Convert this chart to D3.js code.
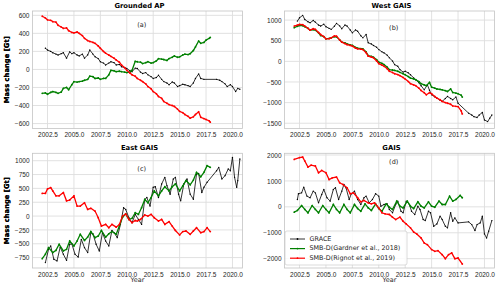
<!DOCTYPE html>
<html lang="en">
<head>
    <meta charset="UTF-8">
    <title>Antarctic mass change</title>
    <script src="https://d3js.org/d3.v7.min.js"></script>
    <style>
        body { margin: 0; background: #fff; }
        svg { display: block; font-family: "DejaVu Sans", sans-serif; }
        .tick text { fill: #262626; font-size: 6.5px; }
        .grid line { stroke: #dedede; stroke-width: 0.9px; }
        .title { font-weight: bold; font-size: 6.8px; fill: #000; }
        .ylab { font-weight: bold; font-size: 6.8px; fill: #000; }
        .tag { font-size: 6.5px; fill: #262626; }
        .legend text { font-size: 6.4px; fill: #262626; }
    </style>
</head>
<body>
    <svg width="500" height="288"></svg>

    <script>
        // [decimal year, mass change in Gt]
        // (a) Grounded AP
        const apGrace = [[2002.3,235],[2002.5,215],[2002.8,200],[2003.0,185],[2003.3,170],[2003.5,160],[2003.8,175],[2004.0,185],[2004.3,125],[2004.6,195],[2004.8,175],[2005.0,185],[2005.3,160],[2005.5,150],[2005.8,170],[2006.0,125],[2006.3,160],[2006.5,215],[2006.8,170],[2007.0,140],[2007.3,120],[2007.5,85],[2007.8,70],[2008.0,50],[2008.3,70],[2008.5,85],[2008.8,75],[2009.0,50],[2009.3,55],[2009.5,30],[2009.8,20],[2010.0,10],[2010.3,-15],[2010.5,-25],[2010.8,15],[2011.0,10],[2011.3,-30],[2011.5,-45],[2011.8,-35],[2012.0,-60],[2012.3,-80],[2012.5,-100],[2012.8,-90],[2013.0,-65],[2013.3,-110],[2013.5,-135],[2013.8,-150],[2014.0,-170],[2014.3,-140],[2014.5,-150],[2014.8,-190],[2015.0,-180],[2015.3,-165],[2015.5,-170],[2015.8,-180],[2016.0,-190],[2016.3,-150],[2016.5,-100],[2016.8,-50],[2017.0,-100],[2017.3,-110],[2018.5,-110],[2018.8,-120],[2019.0,-135],[2019.3,-160],[2019.5,-190],[2019.8,-170],[2020.0,-190],[2020.3,-245],[2020.5,-210],[2020.7,-220]];
        const apGardner = [[2002.0,-265],[2002.3,-260],[2002.5,-275],[2002.8,-255],[2003.0,-245],[2003.3,-255],[2003.5,-265],[2003.8,-250],[2004.0,-210],[2004.3,-200],[2004.5,-225],[2004.8,-170],[2005.0,-135],[2005.3,-140],[2005.5,-135],[2005.8,-130],[2006.0,-120],[2006.3,-110],[2006.5,-75],[2006.8,-80],[2007.0,-100],[2007.3,-95],[2007.5,-110],[2007.8,-100],[2008.0,-100],[2008.3,-60],[2008.5,-10],[2008.8,-15],[2009.0,-25],[2009.3,-20],[2009.5,-25],[2009.8,-30],[2010.0,-35],[2010.3,-30],[2010.5,-10],[2010.8,90],[2011.0,85],[2011.3,80],[2011.5,65],[2011.8,75],[2012.0,85],[2012.3,70],[2012.5,75],[2012.8,95],[2013.0,120],[2013.3,115],[2013.5,110],[2013.8,100],[2014.0,120],[2014.3,135],[2014.5,150],[2014.8,135],[2015.0,140],[2015.3,160],[2015.5,170],[2015.8,165],[2016.0,175],[2016.3,210],[2016.5,250],[2016.8,315],[2017.0,290],[2017.3,300],[2017.5,325],[2017.8,345],[2017.9,355]];
        const apRignot = [[2002.0,590],[2002.3,570],[2002.5,550],[2002.8,545],[2003.0,530],[2003.3,525],[2003.5,490],[2003.8,470],[2004.0,455],[2004.3,460],[2004.5,430],[2004.8,410],[2005.0,405],[2005.3,415],[2005.5,400],[2005.8,375],[2006.0,345],[2006.3,320],[2006.5,310],[2006.8,300],[2007.0,290],[2007.3,260],[2007.5,235],[2007.8,200],[2008.0,180],[2008.3,160],[2008.5,145],[2008.8,125],[2009.0,105],[2009.3,80],[2009.5,50],[2009.8,20],[2010.0,-10],[2010.3,-40],[2010.5,-60],[2010.8,-75],[2011.0,-100],[2011.3,-120],[2011.5,-135],[2011.8,-160],[2012.0,-190],[2012.3,-215],[2012.5,-245],[2012.8,-270],[2013.0,-300],[2013.3,-320],[2013.5,-355],[2013.8,-375],[2014.0,-390],[2014.3,-400],[2014.5,-410],[2014.8,-440],[2015.0,-465],[2015.3,-480],[2015.5,-500],[2015.8,-520],[2016.0,-540],[2016.3,-525],[2016.5,-500],[2016.8,-470],[2017.0,-530],[2017.3,-545],[2017.5,-555],[2017.8,-570],[2017.9,-585]];

        // (b) West GAIS
        const wgGrace = [[2002.3,975],[2002.5,1055],[2002.8,1115],[2003.0,1015],[2003.3,960],[2003.5,935],[2003.8,990],[2004.0,950],[2004.3,880],[2004.5,855],[2004.8,900],[2005.0,840],[2005.3,800],[2005.5,775],[2005.8,850],[2006.0,920],[2006.3,860],[2006.5,790],[2006.8,880],[2007.0,855],[2007.3,760],[2007.5,690],[2007.8,760],[2008.0,730],[2008.3,620],[2008.5,570],[2008.8,650],[2009.0,450],[2009.3,420],[2009.5,385],[2009.8,340],[2010.0,285],[2010.3,230],[2010.5,205],[2010.8,150],[2011.0,85],[2011.3,10],[2011.5,-80],[2011.8,-120],[2012.0,-200],[2012.3,-260],[2012.5,-240],[2012.8,-280],[2013.0,-325],[2013.3,-400],[2013.5,-445],[2013.8,-520],[2014.0,-590],[2014.3,-690],[2014.6,-570],[2014.8,-700],[2015.0,-810],[2015.3,-860],[2015.5,-890],[2015.8,-940],[2016.0,-970],[2016.3,-900],[2016.5,-850],[2016.8,-900],[2017.0,-930],[2017.3,-865],[2017.5,-1015],[2018.5,-1255],[2018.8,-1300],[2019.0,-1340],[2019.3,-1360],[2019.5,-1300],[2019.8,-1240],[2020.0,-1420],[2020.3,-1460],[2020.5,-1380],[2020.7,-1300]];
        const wgGardner = [[2002.0,815],[2002.3,850],[2002.5,870],[2002.8,865],[2003.0,840],[2003.3,800],[2003.5,755],[2003.8,770],[2004.0,755],[2004.3,690],[2004.5,625],[2004.8,600],[2005.0,545],[2005.3,555],[2005.5,570],[2005.8,600],[2006.0,595],[2006.3,520],[2006.5,465],[2006.8,450],[2007.0,425],[2007.3,400],[2007.5,385],[2007.8,340],[2008.0,320],[2008.3,310],[2008.5,300],[2008.8,230],[2009.0,140],[2009.3,120],[2009.5,100],[2009.8,40],[2010.0,-20],[2010.3,-50],[2010.5,-80],[2010.8,-140],[2011.0,-200],[2011.3,-210],[2011.5,-220],[2011.8,-240],[2012.0,-265],[2012.3,-300],[2012.5,-325],[2012.8,-370],[2013.0,-405],[2013.3,-425],[2013.5,-445],[2013.8,-490],[2014.0,-540],[2014.3,-570],[2014.5,-590],[2014.8,-510],[2015.0,-625],[2015.3,-650],[2015.5,-670],[2015.8,-680],[2016.0,-690],[2016.3,-710],[2016.5,-730],[2016.8,-670],[2017.0,-755],[2017.3,-770],[2017.5,-785],[2017.8,-820],[2017.9,-865]];
        const wgRignot = [[2002.0,855],[2002.3,880],[2002.5,895],[2002.8,890],[2003.0,855],[2003.3,800],[2003.5,755],[2003.8,790],[2004.0,775],[2004.3,700],[2004.5,650],[2004.8,600],[2005.0,545],[2005.3,550],[2005.5,570],[2005.8,615],[2006.0,610],[2006.3,520],[2006.5,465],[2006.8,430],[2007.0,405],[2007.3,385],[2007.5,370],[2007.8,320],[2008.0,300],[2008.3,295],[2008.5,285],[2008.8,210],[2009.0,125],[2009.3,105],[2009.5,85],[2009.8,10],[2010.0,-55],[2010.3,-90],[2010.5,-120],[2010.8,-180],[2011.0,-240],[2011.3,-270],[2011.5,-300],[2011.8,-320],[2012.0,-345],[2012.3,-390],[2012.5,-430],[2012.8,-490],[2013.0,-540],[2013.3,-570],[2013.5,-590],[2013.8,-650],[2014.0,-705],[2014.3,-760],[2014.5,-810],[2014.8,-760],[2015.0,-785],[2015.3,-850],[2015.5,-890],[2015.8,-930],[2016.0,-970],[2016.3,-1000],[2016.5,-1015],[2016.8,-1040],[2017.0,-1080],[2017.3,-1090],[2017.5,-1095],[2017.8,-1200],[2017.9,-1275]];

        // (c) East GAIS
        const egGrace = [[2002.3,-840],[2002.6,-600],[2002.8,-540],[2003.1,-780],[2003.4,-810],[2003.7,-560],[2004.0,-690],[2004.3,-800],[2004.6,-510],[2004.8,-500],[2005.1,-690],[2005.4,-740],[2005.7,-420],[2006.0,-570],[2006.3,-660],[2006.6,-300],[2006.8,-320],[2007.1,-510],[2007.4,-630],[2007.7,-300],[2008.0,-450],[2008.3,-540],[2008.6,-260],[2008.8,-300],[2009.1,-390],[2009.4,-150],[2009.7,150],[2009.9,120],[2010.2,-30],[2010.5,-120],[2010.8,30],[2011.1,-60],[2011.4,-150],[2011.7,300],[2011.9,335],[2012.2,180],[2012.5,520],[2012.7,530],[2013.0,335],[2013.3,580],[2013.6,700],[2013.8,550],[2014.1,395],[2014.4,670],[2014.6,700],[2014.9,395],[2015.1,275],[2015.4,580],[2015.7,670],[2016.0,395],[2016.3,305],[2016.6,760],[2016.8,770],[2017.1,425],[2017.3,520],[2017.6,610],[2018.5,820],[2018.7,880],[2019.0,670],[2019.3,730],[2019.6,850],[2019.8,820],[2020.0,1060],[2020.2,700],[2020.4,520],[2020.5,640],[2020.7,1030]];
        const egGardner = [[2002.0,-770],[2002.3,-690],[2002.6,-570],[2003.0,-660],[2003.3,-620],[2003.6,-510],[2004.0,-630],[2004.3,-600],[2004.6,-450],[2005.0,-540],[2005.3,-450],[2005.6,-330],[2006.0,-440],[2006.3,-380],[2006.6,-280],[2007.0,-390],[2007.3,-360],[2007.6,-260],[2008.0,-380],[2008.3,-320],[2008.6,-280],[2009.0,-330],[2009.3,-180],[2009.6,-20],[2009.9,40],[2010.2,-60],[2010.5,-40],[2010.8,60],[2011.1,30],[2011.4,150],[2011.7,300],[2012.0,240],[2012.3,335],[2012.6,455],[2013.0,365],[2013.3,455],[2013.6,530],[2014.0,455],[2014.3,530],[2014.6,580],[2015.0,455],[2015.3,545],[2015.6,640],[2016.0,565],[2016.3,650],[2016.6,790],[2017.0,710],[2017.3,790],[2017.6,910],[2017.9,880]];
        const egRignot = [[2002.0,410],[2002.3,410],[2002.5,490],[2002.8,515],[2003.0,455],[2003.3,365],[2003.6,365],[2004.0,425],[2004.3,275],[2004.6,290],[2005.0,365],[2005.3,180],[2005.6,180],[2006.0,240],[2006.3,120],[2006.6,140],[2007.0,90],[2007.3,-30],[2007.6,-180],[2008.0,-150],[2008.3,-210],[2008.6,-150],[2009.0,-200],[2009.3,-150],[2009.6,0],[2009.9,40],[2010.2,-60],[2010.5,-120],[2010.8,-80],[2011.0,-90],[2011.3,-60],[2011.7,20],[2012.0,0],[2012.3,30],[2012.6,-30],[2013.0,-90],[2013.3,-60],[2013.6,-150],[2014.0,-100],[2014.3,-180],[2014.6,-260],[2015.0,-340],[2015.3,-280],[2015.6,-270],[2016.0,-330],[2016.3,-270],[2016.6,-210],[2017.0,-300],[2017.3,-280],[2017.6,-210],[2017.9,-280]];

        // (d) GAIS
        const gaGrace = [[2002.3,285],[2002.4,505],[2002.7,540],[2002.9,760],[2003.2,415],[2003.5,350],[2003.8,605],[2004.0,540],[2004.3,155],[2004.6,475],[2004.8,670],[2005.1,350],[2005.4,220],[2005.7,670],[2005.9,735],[2006.2,285],[2006.5,605],[2006.7,865],[2006.9,735],[2007.2,285],[2007.4,505],[2007.7,605],[2008.0,285],[2008.3,90],[2008.6,350],[2008.8,415],[2009.1,155],[2009.4,285],[2009.7,505],[2010.0,415],[2010.2,25],[2010.5,90],[2010.8,115],[2011.0,-100],[2011.3,-230],[2011.6,90],[2011.8,220],[2012.1,-170],[2012.3,-230],[2012.6,220],[2012.9,90],[2013.1,-170],[2013.4,-295],[2013.7,25],[2013.9,-100],[2014.2,-490],[2014.4,-530],[2014.7,-170],[2014.9,-230],[2015.2,-750],[2015.5,-660],[2015.8,-360],[2016.0,-490],[2016.3,-750],[2016.5,-810],[2016.8,-230],[2017.0,-555],[2017.2,-425],[2017.5,-620],[2018.5,-580],[2018.8,-685],[2019.1,-915],[2019.3,-685],[2019.6,-620],[2019.8,-360],[2020.0,-1045],[2020.2,-1200],[2020.4,-940],[2020.7,-530]];
        const gaGardner = [[2002.0,-205],[2002.3,-140],[2002.7,50],[2003.0,-100],[2003.3,-230],[2003.7,50],[2004.0,-100],[2004.3,-230],[2004.7,50],[2005.0,-100],[2005.3,-230],[2005.7,90],[2006.0,-100],[2006.3,-230],[2006.7,90],[2007.0,-100],[2007.3,-230],[2007.7,90],[2008.0,-65],[2008.3,-170],[2008.7,115],[2009.0,-40],[2009.3,-140],[2009.7,115],[2010.0,-65],[2010.3,-170],[2010.7,115],[2011.0,-15],[2011.3,-100],[2011.7,220],[2012.0,25],[2012.3,-40],[2012.7,220],[2013.0,25],[2013.3,-65],[2013.7,195],[2014.0,25],[2014.3,-40],[2014.7,195],[2015.0,25],[2015.3,-15],[2015.7,220],[2016.0,90],[2016.3,90],[2016.7,410],[2017.0,220],[2017.3,285],[2017.7,440],[2017.9,350]];
        const gaRignot = [[2002.0,1830],[2002.5,1900],[2002.8,1920],[2003.0,1770],[2003.3,1535],[2003.6,1610],[2004.0,1575],[2004.3,1315],[2004.6,1405],[2005.0,1315],[2005.3,1055],[2005.6,1120],[2006.0,1150],[2006.3,930],[2006.6,865],[2007.0,735],[2007.3,505],[2007.6,540],[2008.0,350],[2008.3,195],[2008.6,245],[2009.0,155],[2009.3,115],[2009.6,155],[2010.0,-40],[2010.3,-230],[2010.6,-270],[2011.0,-295],[2011.3,-400],[2011.6,-490],[2012.0,-400],[2012.3,-555],[2012.6,-660],[2013.0,-810],[2013.3,-970],[2013.6,-1045],[2014.0,-1200],[2014.3,-1395],[2014.6,-1460],[2015.0,-1650],[2015.3,-1715],[2015.6,-1690],[2016.0,-1845],[2016.3,-2000],[2016.6,-1845],[2016.9,-1780],[2017.2,-2000],[2017.5,-1975],[2017.9,-2205]];

        const xTicks = [2002.5, 2005, 2007.5, 2010, 2012.5, 2015, 2017.5, 2020];
        const apTicks = [-600, -400, -200, 0, 200, 400, 600];
        const wgTicks = [-1500, -1000, -500, 0, 500, 1000];
        const egTicks = [-750, -500, -250, 0, 250, 500, 750, 1000];
        const gaTicks = [-2000, -1000, 0, 1000, 2000];

        const seriesNames = ["GRACE", "SMB-D(Gardner et al., 2018)", "SMB-D(Rignot et al., 2019)"];
        const colors = ["#000000", "#008000", "#ff0000"];

        const panels = [
            { title: "Grounded AP", tag: "(a)", data: [apGrace, apGardner, apRignot], yDom: [-655, 648], yTicks: apTicks,
              left: 32.5, top: 11, h: 117.5, tagY: 14, xLabel: false, legend: false },
            { title: "West GAIS", tag: "(b)", data: [wgGrace, wgGardner, wgRignot], yDom: [-1627, 1220], yTicks: wgTicks,
              left: 284.5, top: 11, h: 117.5, tagY: 17, xLabel: false, legend: false },
            { title: "East GAIS", tag: "(c)", data: [egGrace, egGardner, egRignot], yDom: [-938, 1134], yTicks: egTicks,
              left: 32.5, top: 153.3, h: 114.7, tagY: 16, xLabel: true, legend: false },
            { title: "GAIS", tag: "(d)", data: [gaGrace, gaGardner, gaRignot], yDom: [-2360, 2066], yTicks: gaTicks,
              left: 284.5, top: 153.3, h: 114.7, tagY: 8.5, xLabel: true, legend: true }
        ];
        const plotW = 210;

        const svg = d3.select("svg");
        const fmtY = d => d3.format("")(d).replace("-", "\u2212");

        panels.forEach(p => {
            const g = svg.append("g").attr("transform", `translate(${p.left},${p.top})`);
            const x = d3.scaleLinear().domain([2001.08, 2020.95]).range([0, plotW]);
            const y = d3.scaleLinear().domain(p.yDom).range([p.h, 0]);

            // grid
            g.append("g").attr("class", "grid")
                .selectAll("line").data(xTicks).join("line")
                .attr("x1", d => x(d)).attr("x2", d => x(d)).attr("y1", 0).attr("y2", p.h);
            g.append("g").attr("class", "grid")
                .selectAll("line").data(p.yTicks).join("line")
                .attr("x1", 0).attr("x2", plotW).attr("y1", d => y(d)).attr("y2", d => y(d));

            // axes (no tick marks, seaborn-like)
            g.append("g")
                .attr("transform", `translate(0,${p.h})`)
                .call(d3.axisBottom(x).tickValues(xTicks).tickFormat(d3.format(".1f")).tickSize(0).tickPadding(4))
                .call(a => a.select(".domain").remove());
            g.append("g")
                .call(d3.axisLeft(y).tickValues(p.yTicks).tickFormat(fmtY).tickSize(0).tickPadding(3))
                .call(a => a.select(".domain").remove());

            g.append("rect").attr("width", plotW).attr("height", p.h)
                .attr("fill", "none").attr("stroke", "#c4c4c4").attr("stroke-width", 0.8);

            // series
            const line = d3.line().x(d => x(d[0])).y(d => y(d[1]));
            p.data.forEach((s, i) => {
                g.append("path").datum(s)
                    .attr("fill", "none").attr("stroke", colors[i])
                    .attr("stroke-width", i === 0 ? 0.8 : 1.3)
                    .attr("d", line);
                g.append("g").selectAll("circle").data(s).join("circle")
                    .attr("cx", d => x(d[0])).attr("cy", d => y(d[1]))
                    .attr("r", i === 0 ? 0.7 : 0.9).attr("fill", colors[i]);
            });

            // labels
            g.append("text").attr("class", "title")
                .attr("x", plotW / 2 + 2).attr("y", -3).attr("text-anchor", "middle").text(p.title);
            g.append("text").attr("class", "tag")
                .attr("x", plotW * 0.52).attr("y", p.tagY).attr("text-anchor", "middle")
                .attr("dominant-baseline", "middle").text(p.tag);
            g.append("text").attr("class", "ylab")
                .attr("transform", `translate(${-p.left + 8.5},${p.h / 2}) rotate(-90)`)
                .attr("text-anchor", "middle").text("Mass change [Gt]");
            if (p.xLabel) {
                g.append("text").attr("class", "tag")
                    .attr("x", plotW / 2).attr("y", p.h + 14.5).attr("text-anchor", "middle").text("Year");
            }

            if (p.legend) {
                const lg = g.append("g").attr("class", "legend").attr("transform", "translate(0.5,77.7)");
                lg.append("rect").attr("width", 122).attr("height", 34).attr("rx", 2)
                    .attr("fill", "#fff").attr("fill-opacity", 0.85).attr("stroke", "#cccccc").attr("stroke-width", 0.7);
                seriesNames.forEach((name, i) => {
                    const ry = 8 + i * 9.6;
                    lg.append("line").attr("x1", 5).attr("x2", 20).attr("y1", ry).attr("y2", ry)
                        .attr("stroke", colors[i]).attr("stroke-width", i === 0 ? 0.8 : 1.2);
                    lg.append("circle").attr("cx", 12.5).attr("cy", ry).attr("r", 0.9).attr("fill", colors[i]);
                    lg.append("text").attr("x", 24.5).attr("y", ry).attr("dominant-baseline", "middle").text(name);
                });
            }
        });
    </script>
</body>
</html>
